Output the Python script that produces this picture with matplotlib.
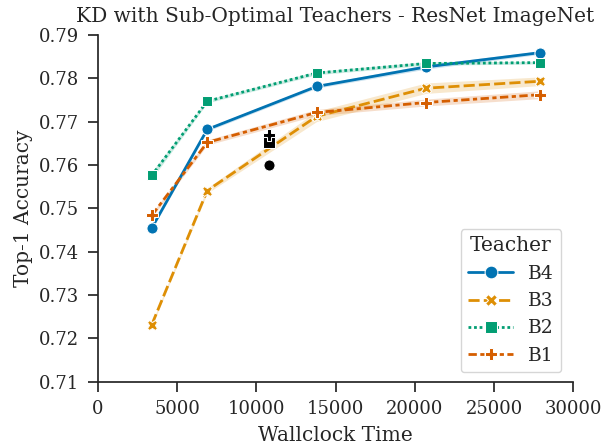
import numpy as np
import matplotlib
matplotlib.use("Agg")
import matplotlib.pyplot as plt
import seaborn as sns

sns.set_theme(style="ticks", font="serif", palette="colorblind")
plt.rcParams['font.family'] = ['DejaVu Serif']

teachers = ['B4', 'B3', 'B2', 'B1']
wallclock = [3400, 6900, 13800, 20700, 27900]
acc = {
    'B4': [0.7455, 0.7682, 0.7781, 0.7826, 0.7859],
    'B3': [0.7232, 0.7541, 0.7712, 0.7777, 0.7793],
    'B2': [0.7576, 0.7747, 0.7812, 0.7834, 0.7836],
    'B1': [0.7484, 0.7652, 0.7721, 0.7744, 0.7762],
}
band = {
    'B4': [0.0004, 0.0004, 0.0004, 0.0005, 0.0004],
    'B3': [0.0004, 0.0006, 0.0012, 0.0012, 0.0010],
    'B2': [0.0008, 0.0004, 0.0004, 0.0004, 0.0003],
    'B1': [0.0005, 0.0006, 0.0007, 0.0008, 0.0009],
}
# single-run reference points
ref_x = [10800, 10800, 10800]
ref_y = [0.7600, 0.7654, 0.7668]
ref_markers = ['o', 's', 'P']

colors = {'B4': '#0173b2', 'B3': '#de8f05', 'B2': '#029e73', 'B1': '#d55e00'}
markers = {'B4': 'o', 'B3': 'X', 'B2': 's', 'B1': 'P'}
dashes = {'B4': (None, None), 'B3': (4, 1.5), 'B2': (1, 1), 'B1': (3, 1.25, 1.5, 1.25)}
msize = {'B4': 8, 'B3': 7.5, 'B2': 7, 'B1': 8}

fig = plt.figure(figsize=(6.03, 4.47), dpi=100)
ax = fig.add_axes([0.1625, 0.146, 0.788, 0.776])

for t in teachers:
    y = np.array(acc[t])
    b = np.array(band[t])
    ax.fill_between(wallclock, y - b, y + b, color=colors[t], alpha=0.2, lw=0)
    line, = ax.plot(wallclock, y, color=colors[t], marker=markers[t], ms=msize[t],
                    mec='white', mew=0.75, lw=2, label=t)
    if dashes[t][0] is not None:
        line.set_dashes(dashes[t])

for x, y, m in zip(ref_x, ref_y, ref_markers):
    ax.plot(x, y, marker=m, color='black', ms=8, mec='white', mew=0.75, ls='none')

ax.set_xlim(0, 30000)
ax.set_ylim(0.71, 0.79)
ax.set_xticks(np.arange(0, 30001, 5000))
ax.set_yticks(np.arange(0.71, 0.7901, 0.01))
ax.set_yticklabels(['%.2f' % v for v in np.arange(0.71, 0.7901, 0.01)])
ax.tick_params(labelsize=13, length=7, width=1.25, pad=6.5)
for s in ax.spines.values():
    s.set_linewidth(1.25)
ax.set_xlabel('Wallclock Time', fontsize=14.5, labelpad=5.5)
ax.set_ylabel('Top-1 Accuracy', fontsize=14.5)
ax.set_title('KD with Sub-Optimal Teachers - ResNet ImageNet', fontsize=14.5, pad=9)
sns.despine(ax=ax)

leg = ax.legend(title='Teacher', loc='lower right', fontsize=13.5, title_fontsize=14.5,
                bbox_to_anchor=(0.995, 0.0), handlelength=2.4, markerscale=1.15)

fig.savefig('out.png', dpi=100)
